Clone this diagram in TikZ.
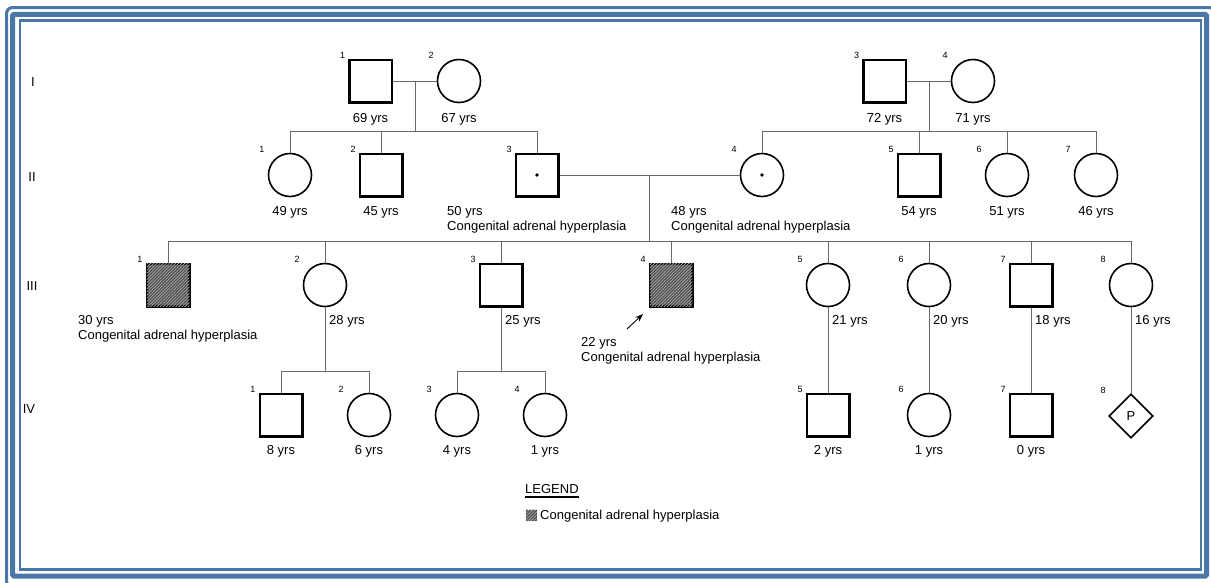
\documentclass[tikz,border=0pt]{standalone}
\usepackage{fontspec}
\setmainfont{Liberation Sans}
\usetikzlibrary{shapes.geometric,patterns.meta,arrows.meta,calc}
\definecolor{frameblue}{RGB}{74,118,168}
\definecolor{linkgray}{RGB}{105,105,105}

\tikzset{
  txt/.style={font=\fontsize{13}{15}\selectfont, inner sep=0pt},
  num/.style={font=\fontsize{9}{10}\selectfont, inner sep=0pt},
  male/.style={draw, rectangle, line width=2.5pt, minimum size=42.5pt, inner sep=0pt},
  female/.style={draw, circle, line width=1.6pt, minimum size=43pt, inner sep=0pt},
  unknown/.style={draw, diamond, aspect=1, line width=1.6pt, minimum size=44pt,
    inner sep=0pt, font=\fontsize{13}{15}\selectfont},
  affected/.style={fill=black!70,
    postaction={pattern={Lines[angle=45,distance=2.2pt,line width=0.8pt]}, pattern color=black!35}},
  link/.style={draw=linkgray, line width=1pt},
  carrier/.style={circle, fill, inner sep=0pt, minimum size=3.8pt},
}

\begin{document}
\begin{tikzpicture}[x=1pt,y=-1pt]
\useasboundingbox (0,0) rectangle (1211,582);
\clip (0,0) rectangle (1211,582);

% page frame
\draw[frameblue, line width=3pt, rounded corners=6pt] (6.5,7.5) rectangle (1215,587);
\draw[frameblue, line width=5pt, rounded corners=1.5pt] (12.5,14.3) rectangle (1206.7,576.2);
\draw[frameblue, line width=2.6pt] (20,20.3) rectangle (1201,569.5);

% generation numbers
\node[txt] (gI)   at (33,82)  {I};
\node[txt] (gII)  at (32,177) {II};
\node[txt] (gIII) at (32,286) {III};
\node[txt] (gIV)  at (29,409) {IV};

% ---------- generation I ----------
\node[male]   (i1) at (370.5,81) {};
\node[female] (i2) at (459,81)   {};
\node[male]   (i3) at (884.5,81) {};
\node[female] (i4) at (973,81)   {};

% ---------- generation II ----------
\node[female] (ii1) at (290,175)  {};
\node[male]   (ii2) at (381,175)  {};
\node[male]   (ii3) at (537,175)  {};
\node[female] (ii4) at (762,175)  {};
\node[male]   (ii5) at (919,175)  {};
\node[female] (ii6) at (1007,175) {};
\node[female] (ii7) at (1096,175) {};
\node[carrier] (ii3dot) at (ii3) {};
\node[carrier] (ii4dot) at (ii4) {};

% ---------- generation III ----------
\node[male, affected] (iii1) at (168,285)  {};
\node[female]         (iii2) at (325,285)  {};
\node[male]           (iii3) at (501,285)  {};
\node[male, affected] (iii4) at (671,285)  {};
\node[female]         (iii5) at (828,285)  {};
\node[female]         (iii6) at (929,285)  {};
\node[male]           (iii7) at (1031,285) {};
\node[female]         (iii8) at (1131,285) {};

% ---------- generation IV ----------
\node[male]    (iv1) at (281,415)  {};
\node[female]  (iv2) at (369,415)  {};
\node[female]  (iv3) at (457,415)  {};
\node[female]  (iv4) at (545,415)  {};
\node[male]    (iv5) at (828,415)  {};
\node[female]  (iv6) at (929,415)  {};
\node[male]    (iv7) at (1031,415) {};
\node[unknown] (iv8) at (1131,416) {P};

% individual numbers
\foreach \p/\n in {i1/1,i2/2,i3/3,i4/4,
                   ii1/1,ii2/2,ii3/3,ii4/4,ii5/5,ii6/6,ii7/7,
                   iii1/1,iii2/2,iii3/3,iii4/4,iii5/5,iii6/6,iii7/7,iii8/8,
                   iv1/1,iv2/2,iv3/3,iv4/4,iv5/5,iv6/6,iv7/7,iv8/8}
  \node[num] (n-\p) at ($(\p)+(-28,-26)$) {\n};

% ---------- relationship lines ----------
% couple I-1 x I-2 and their children
\coordinate (m1) at (415,81);
\coordinate (s1) at (415,131);
\draw[link] (i1.east) -- (i2.west);
\draw[link] (m1) -- (s1);
\draw[link] (ii1 |- s1) -- (ii3 |- s1);
\foreach \c in {ii1,ii2,ii3} \draw[link] (\c |- s1) -- (\c.north);

% couple I-3 x I-4 and their children
\coordinate (m2) at (929,81);
\coordinate (s2) at (929,131);
\draw[link] (i3.east) -- (i4.west);
\draw[link] (m2) -- (s2);
\draw[link] (ii4 |- s2) -- (ii7 |- s2);
\foreach \c in {ii4,ii5,ii6,ii7} \draw[link] (\c |- s2) -- (\c.north);

% couple II-3 x II-4 and their children
\coordinate (m3) at (649,175);
\coordinate (s3) at (649,241);
\draw[link] (ii3.east) -- (ii4.west);
\draw[link] (m3) -- (s3);
\draw[link] (iii1 |- s3) -- (iii8 |- s3);
\foreach \c in {iii1,iii2,iii3,iii4,iii5,iii6,iii7,iii8} \draw[link] (\c |- s3) -- (\c.north);

% children of III-2
\coordinate (s4) at (325,371);
\draw[link] (iii2.south) -- (s4);
\draw[link] (iv1 |- s4) -- (iv2 |- s4);
\foreach \c in {iv1,iv2} \draw[link] (\c |- s4) -- (\c.north);

% children of III-3
\coordinate (s5) at (501,371);
\draw[link] (iii3.south) -- (s5);
\draw[link] (iv3 |- s5) -- (iv4 |- s5);
\foreach \c in {iv3,iv4} \draw[link] (\c |- s5) -- (\c.north);

% single children
\draw[link] (iii5.south) -- (iv5.north);
\draw[link] (iii6.south) -- (iv6.north);
\draw[link] (iii7.south) -- (iv7.north);
\draw[link] (iii8.south) -- (iv8.north);

% ---------- ages and notes ----------
\node[txt, anchor=base] (a-i1) at (370.5,122) {69 yrs};
\node[txt, anchor=base] (a-i2) at (459,122)   {67 yrs};
\node[txt, anchor=base] (a-i3) at (884.5,122) {72 yrs};
\node[txt, anchor=base] (a-i4) at (973,122)   {71 yrs};

\node[txt, anchor=base] (a-ii1) at (290,215.5)  {49 yrs};
\node[txt, anchor=base] (a-ii2) at (381,215.5)  {45 yrs};
\node[txt, anchor=base west] (a-ii3)  at (447,215.5) {50 yrs};
\node[txt, anchor=base west] (d-ii3)  at (447,230.5) {Congenital adrenal hyperplasia};
\node[txt, anchor=base west] (a-ii4)  at (671,215.5) {48 yrs};
\node[txt, anchor=base west] (d-ii4)  at (671,230.5) {Congenital adrenal hyperplasia};
\node[txt, anchor=base] (a-ii5) at (919,215.5)  {54 yrs};
\node[txt, anchor=base] (a-ii6) at (1007,215.5) {51 yrs};
\node[txt, anchor=base] (a-ii7) at (1096,215.5) {46 yrs};

\node[txt, anchor=base west] (a-iii1) at (78,324.5) {30 yrs};
\node[txt, anchor=base west] (d-iii1) at (78,339.5) {Congenital adrenal hyperplasia};
\node[txt, anchor=base west] (a-iii2) at (329,324.5)  {28 yrs};
\node[txt, anchor=base west] (a-iii3) at (505,324.5)  {25 yrs};
\node[txt, anchor=base west] (a-iii4) at (581,346)  {22 yrs};
\node[txt, anchor=base west] (d-iii4) at (581,361.5)  {Congenital adrenal hyperplasia};
\node[txt, anchor=base west] (a-iii5) at (832,324.5)  {21 yrs};
\node[txt, anchor=base west] (a-iii6) at (933,324.5)  {20 yrs};
\node[txt, anchor=base west] (a-iii7) at (1035,324.5) {18 yrs};
\node[txt, anchor=base west] (a-iii8) at (1135,324.5) {16 yrs};

\node[txt, anchor=base] (a-iv1) at (281,454.5)  {8 yrs};
\node[txt, anchor=base] (a-iv2) at (369,454.5)  {6 yrs};
\node[txt, anchor=base] (a-iv3) at (457,454.5)  {4 yrs};
\node[txt, anchor=base] (a-iv4) at (545,454.5)  {1 yrs};
\node[txt, anchor=base] (a-iv5) at (828,454.5)  {2 yrs};
\node[txt, anchor=base] (a-iv6) at (929,454.5)  {1 yrs};
\node[txt, anchor=base] (a-iv7) at (1031,454.5) {0 yrs};

% proband arrow
\coordinate (pa) at (627,329);
\coordinate (pb) at (643,314);
\draw[line width=0.9pt, -{Stealth[length=8pt,width=6pt]}] (pa) -- (pb);

% ---------- legend ----------
\node[txt, anchor=base west] (leg) at (525,493.5) {LEGEND};
\draw[line width=1.5pt] ([yshift=-3.5pt]leg.base west) -- ([yshift=-3.5pt]leg.base east);
\node[affected, rectangle, minimum size=11pt, inner sep=0pt] (legsq) at (531,515) {};
\node[txt, anchor=base west] (legtxt) at (540,519.5) {Congenital adrenal hyperplasia};
\end{tikzpicture}
\end{document}
